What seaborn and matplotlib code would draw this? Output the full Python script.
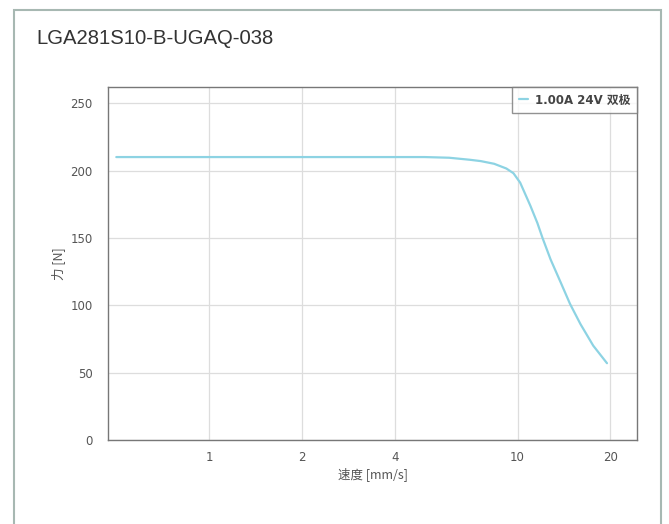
import matplotlib
matplotlib.use("Agg")
import matplotlib.pyplot as plt
import matplotlib.patches as mpatches
import seaborn as sns
import pandas as pd

# data
speed = [0.5, 1, 2, 4, 5, 6, 7, 7.6, 8.4, 9.2, 9.7, 10.2, 11.0, 11.6, 12.05, 12.8, 13.8, 14.8, 16.0, 17.6, 19.5]
force = [210, 210, 210, 210, 210, 209.5, 208, 207, 205, 201.5, 198, 191, 174, 161, 150, 134, 117, 101, 86, 70, 57]
xticks = [1, 2, 4, 10, 20]
yticks = [0, 50, 100, 150, 200, 250]
series_name = "1.00A 24V 双极"

df = pd.DataFrame({"speed": speed, "force": force})

sns.set_style("white")
plt.rcParams["font.family"] = ["DejaVu Sans", "Noto Sans CJK SC"]

fig = plt.figure(figsize=(6.69, 5.24), dpi=100)
ax = fig.add_axes([108 / 669, 84 / 524, 529 / 669, 353 / 524])

# outer frame around the card
fig.patches.append(mpatches.Rectangle((14 / 669, -0.05), 647 / 669, 1.05 - 10 / 524,
                                      transform=fig.transFigure, fill=False,
                                      edgecolor="#a7b8b2", linewidth=1.5))

sns.lineplot(data=df, x="speed", y="force", ax=ax, color="#8dd3e3", linewidth=1.6,
             label=series_name)

ax.set_xscale("log")
ax.set_xlim(0.47, 24.4)
ax.set_ylim(0, 262)
ax.set_xticks(xticks)
ax.set_xticklabels([str(t) for t in xticks])
ax.minorticks_off()
ax.set_yticks(yticks)
ax.tick_params(axis="both", length=0, labelsize=8.5, colors="#555555")
ax.tick_params(axis="x", pad=8)
ax.tick_params(axis="y", pad=11)
ax.grid(True, color="#dddddd", linewidth=0.9)
for s in ax.spines.values():
    s.set_color("#777777")
    s.set_linewidth(1.0)

ax.set_xlabel("速度 [mm/s]", fontsize=9, color="#555555",
              family=["Noto Sans CJK SC", "DejaVu Sans"], labelpad=2)
ax.set_ylabel("力 [N]", fontsize=9, color="#555555",
              family=["Noto Sans CJK SC", "DejaVu Sans"], labelpad=4)

leg = ax.legend(loc="upper right", frameon=True, fancybox=False, borderaxespad=0,
                handlelength=0.8, handletextpad=0.6, borderpad=0.55,
                prop={"size": 8.5, "weight": "bold",
                      "family": ["DejaVu Sans", "Noto Sans CJK SC"]})
leg.get_frame().set_edgecolor("#777777")
leg.get_frame().set_linewidth(1.0)
for t in leg.get_texts():
    t.set_color("#444444")

fig.text(36 / 669, 1 - 44 / 524, "LGA281S10-B-UGAQ-038", fontsize=14.6,
         family="Liberation Sans", color="#333333")

fig.savefig("out.png", dpi=100)
